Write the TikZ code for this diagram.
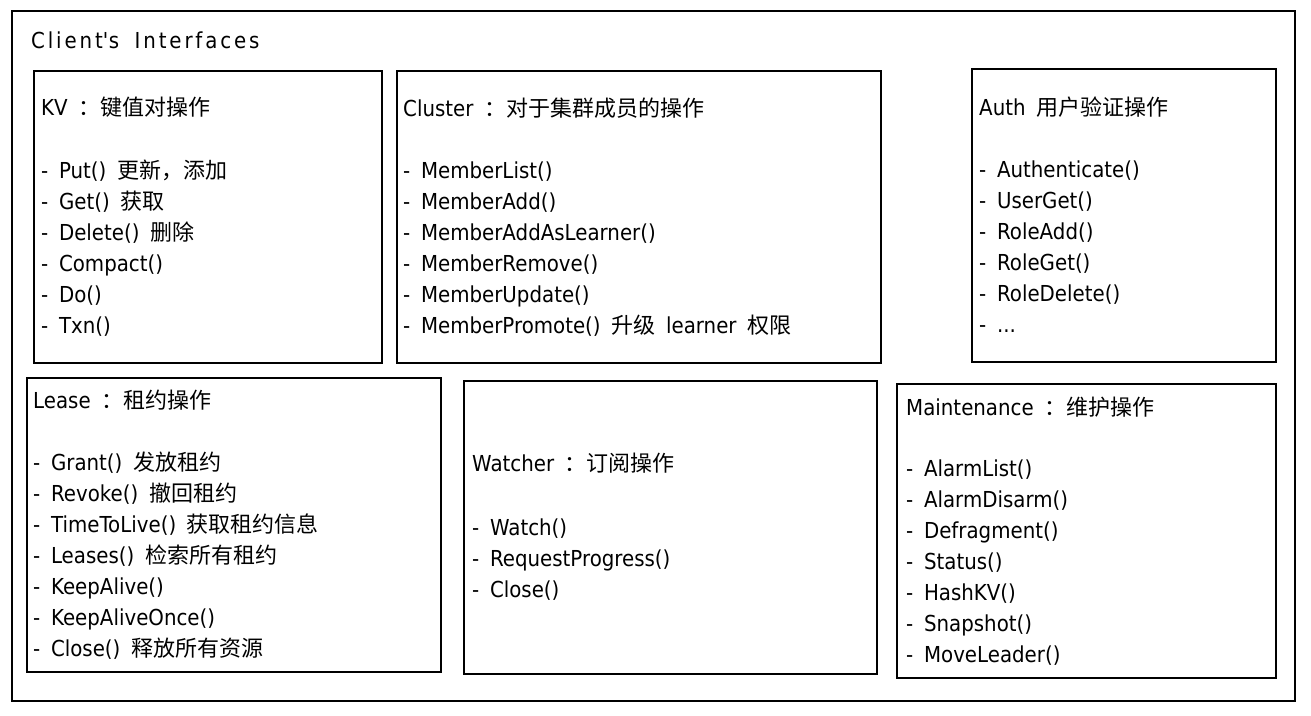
\documentclass[tikz,border=0pt]{standalone}
\usepackage{fontspec}
\setmainfont{DejaVu Sans}[WordSpace=1.7, FakeStretch=0.9]
\newfontfamily\cjk{Noto Sans CJK SC}[Scale=1.0]
\def\mythreedots{...}
\begin{document}
\begin{tikzpicture}[x=1pt,y=-1pt]
\tikzset{
  box/.style={draw, line width=1.3pt},
  txt/.style={anchor=base west, inner sep=0pt, font=\fontsize{22}{27}\selectfont},
}
\useasboundingbox (0,0) rectangle (1311,715);
\fill[white] (0,0) rectangle (1311,715);
% boxes
\draw[box] (12,11) rectangle (1295,701);
\draw[box] (34,71) rectangle (382,363);
\draw[box] (397,71) rectangle (881,363);
\draw[box] (972,69) rectangle (1276,362);
\draw[box] (27,378) rectangle (441,672);
\draw[box] (464,381) rectangle (877,674);
\draw[box] (897,384) rectangle (1276,678);
% title
\node[txt] (title) at (31,48) {\addfontfeatures{LetterSpace=13}Client\textquotesingle s Interfaces};
% KV
\node[txt] (kvh) at (41,115) {KV {\cjk ：键值对操作}};
\foreach \t [count=\i from 0] in {
  {- Put() {\cjk 更新，添加}},
  {- Get() {\cjk 获取}},
  {- Delete() {\cjk 删除}},
  {- Compact()},
  {- Do()},
  {- Txn()}}
  \node[txt] (kv\i) at (41,178+31*\i) {\t};
% Cluster
\node[txt] (clh) at (403,116) {Cluster {\cjk ：对于集群成员的操作}};
\foreach \t [count=\i from 0] in {
  {- MemberList()},
  {- MemberAdd()},
  {- MemberAddAsLearner()},
  {- MemberRemove()},
  {- MemberUpdate()},
  {- MemberPromote() {\cjk 升级} learner {\cjk 权限}}}
  \node[txt] (cl\i) at (403,178+31*\i) {\t};
% Auth
\node[txt] (auh) at (979,115) {Auth {\cjk 用户验证操作}};
\foreach \t [count=\i from 0] in {
  {- Authenticate()},
  {- UserGet()},
  {- RoleAdd()},
  {- RoleGet()},
  {- RoleDelete()},
  {- \mythreedots}}
  \node[txt] (au\i) at (979,177+31*\i) {\t};
% Lease
\node[txt] (leh) at (33,408) {Lease {\cjk ：租约操作}};
\foreach \t [count=\i from 0] in {
  {- Grant() {\cjk 发放租约}},
  {- Revoke() {\cjk 撤回租约}},
  {- TimeToLive() {\cjk 获取租约信息}},
  {- Leases() {\cjk 检索所有租约}},
  {- KeepAlive()},
  {- KeepAliveOnce()},
  {- Close() {\cjk 释放所有资源}}}
  \node[txt] (le\i) at (33,470+31*\i) {\t};
% Watcher
\node[txt] (wah) at (472,471) {Watcher {\cjk ：订阅操作}};
\foreach \t [count=\i from 0] in {
  {- Watch()},
  {- RequestProgress()},
  {- Close()}}
  \node[txt] (wa\i) at (472,535+31*\i) {\t};
% Maintenance
\node[txt] (mah) at (906,415) {Maintenance {\cjk ：维护操作}};
\foreach \t [count=\i from 0] in {
  {- AlarmList()},
  {- AlarmDisarm()},
  {- Defragment()},
  {- Status()},
  {- HashKV()},
  {- Snapshot()},
  {- MoveLeader()}}
  \node[txt] (ma\i) at (906,476+31*\i) {\t};
\end{tikzpicture}
\end{document}
